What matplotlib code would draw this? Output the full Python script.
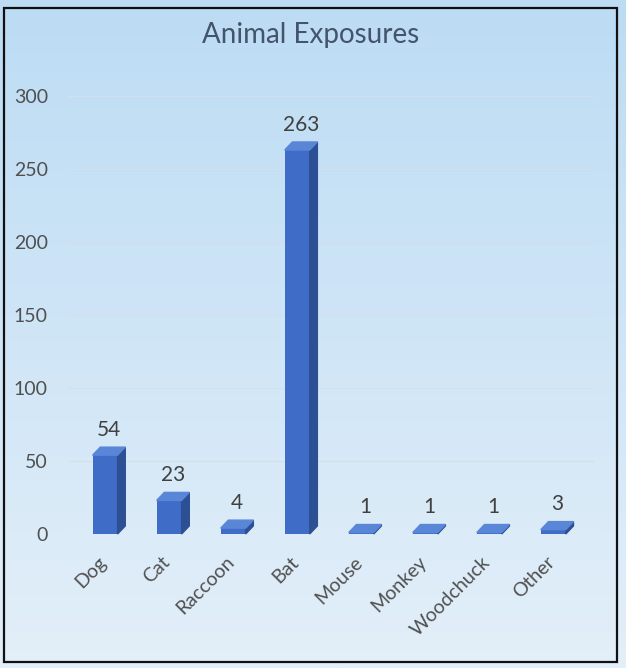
import numpy as np
import matplotlib
matplotlib.use("Agg")
from matplotlib import pyplot as plt
from matplotlib.patches import Polygon, Rectangle

animals = ["Dog", "Cat", "Raccoon", "Bat", "Mouse", "Monkey", "Woodchuck", "Other"]
exposures = [54, 23, 4, 263, 1, 1, 1, 3]
yticks = [0, 50, 100, 150, 200, 250, 300]

front = "#3f6cc6"
side = "#2d4f94"
top = "#5a86d8"
txt = "#404040"

plt.rcParams['font.family'] = ['Lato', 'DejaVu Sans']

fig = plt.figure(figsize=(6.26, 6.68), dpi=100)

# background gradient
bg = fig.add_axes([0, 0, 1, 1], zorder=0)
grad = np.linspace(0, 1, 256).reshape(-1, 1)
cmap = matplotlib.colors.LinearSegmentedColormap.from_list("bg", ["#bcdcf4", "#e3eff9"])
bg.imshow(grad, aspect="auto", cmap=cmap, extent=[0, 1, 0, 1], origin="upper")
bg.set_axis_off()
bg.add_patch(Rectangle((0.0065, 0.009), 0.979, 0.979, fill=False, edgecolor="#111111",
                       linewidth=1.6, transform=bg.transAxes))

ax = fig.add_axes([0.1096, 0.2006, 0.8387, 0.6557], zorder=1)
ax.patch.set_alpha(0)
for s in ax.spines.values():
    s.set_visible(False)

x = np.arange(len(animals))
w = 0.39
dx = 0.12
dy = 5.5
ax.bar(x - 0.03, exposures, width=w, color=front, zorder=3)
for xi, h in zip(x - 0.03, exposures):
    x0, x1 = xi - w / 2, xi + w / 2
    ax.add_patch(Polygon([(x1, 0), (x1 + dx, dy), (x1 + dx, h + dy), (x1, h)],
                         closed=True, color=side, zorder=3, clip_on=False))
    ax.add_patch(Polygon([(x0, h), (x1, h), (x1 + dx, h + dy), (x0 + dx, h + dy)],
                         closed=True, color=top, zorder=4, clip_on=False))
    ax.text(xi + dx / 2, h + dy + 5, str(h), ha="center", va="bottom",
            fontsize=15, color=txt)

ax.set_xlim(-0.6, 7.6)
ax.set_ylim(0, 300)
ax.set_yticks(yticks)
ax.yaxis.grid(True, color="#d2e0ec", linewidth=0.8, zorder=0)
ax.set_axisbelow(True)
ax.tick_params(axis="y", length=0, pad=15, labelsize=14, labelcolor="#505050")
ax.tick_params(axis="x", length=0, pad=14, labelsize=14, labelcolor="#505050")
ax.set_xticks(x - 0.15)
ax.set_xticklabels(animals, rotation=45, ha="right", va="top", rotation_mode="anchor")

fig.text(0.497, 0.947, "Animal Exposures", ha="center", va="center",
         fontsize=20, color="#44546a")

fig.savefig("out.png", dpi=100)
